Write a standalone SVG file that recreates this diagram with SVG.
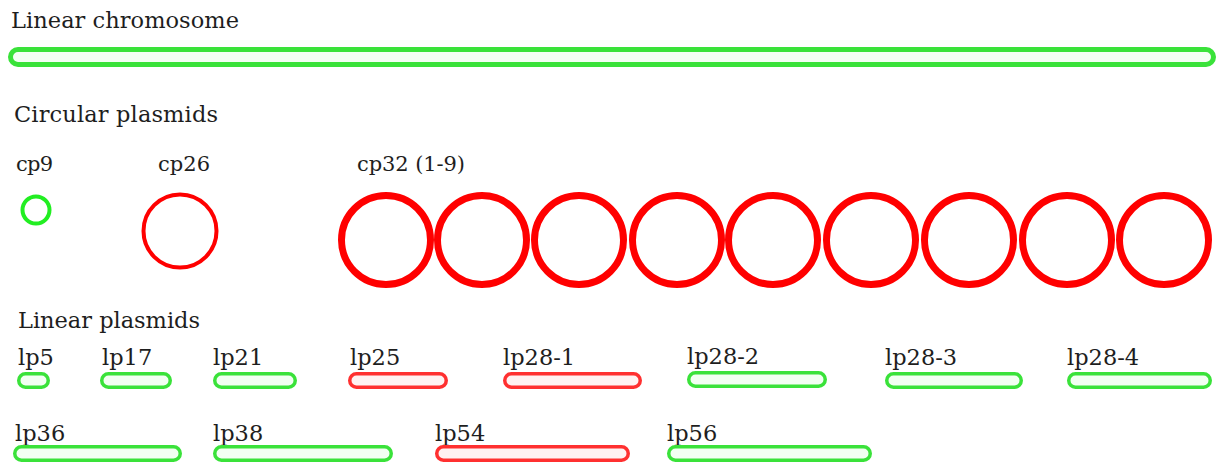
<svg xmlns="http://www.w3.org/2000/svg" width="1217" height="463" viewBox="0 0 1217 463">
<style>
text{font-family:"DejaVu Serif","Liberation Serif",serif;fill:#1e1e1e;}
.h{font-size:22.5px;}
.c{font-size:21px;}
.l{font-size:22.5px;}
.g{fill:#f2fff2;stroke:#3ae23a;stroke-width:3.5;}
.r{fill:#fff2f2;stroke:#ff3030;stroke-width:3.5;}
.cg{fill:none;stroke:#22ee22;stroke-width:4;}
.cr{fill:none;stroke:#ff0000;stroke-width:4;}
.cr7{fill:none;stroke:#ff0000;stroke-width:7;}
</style>
<rect width="1217" height="463" fill="#ffffff"/>
<g id="chromosome">
<text class="h" x="11" y="28" textLength="228">Linear chromosome</text>
<rect x="10.5" y="49.5" width="1203" height="15" rx="7.5" fill="#f4fff4" stroke="#3ae23a" stroke-width="5"/>
</g>
<text class="h" x="14" y="122" textLength="204">Circular plasmids</text>
<g id="cp9"><text class="c" x="16" y="171" textLength="37">cp9</text><circle class="cg" cx="36" cy="210" r="13.5"/></g>
<g id="cp26"><text class="c" x="158" y="171" textLength="52">cp26</text><circle class="cr" cx="180" cy="231" r="36.5"/></g>
<g id="cp32">
<text class="c" x="357" y="171" textLength="108">cp32 (1-9)</text>
<circle class="cr7" cx="386" cy="240" r="44.5"/>
<circle class="cr7" cx="482" cy="240" r="44.5"/>
<circle class="cr7" cx="579" cy="240" r="44.5"/>
<circle class="cr7" cx="677" cy="240" r="44.5"/>
<circle class="cr7" cx="773" cy="240" r="44.5"/>
<circle class="cr7" cx="871" cy="240" r="44.5"/>
<circle class="cr7" cx="969" cy="240" r="44.5"/>
<circle class="cr7" cx="1067" cy="240" r="44.5"/>
<circle class="cr7" cx="1164" cy="240" r="44.5"/>
</g>
<text class="h" x="18" y="328" textLength="182">Linear plasmids</text>
<g id="lp5"><text class="l" x="18" y="365">lp5</text><rect class="g" x="18.75" y="373.75" width="29.5" height="13.5" rx="6.75"/></g>
<g id="lp17"><text class="l" x="102" y="365">lp17</text><rect class="g" x="101.75" y="373.75" width="68.5" height="13.5" rx="6.75"/></g>
<g id="lp21"><text class="l" x="213" y="365">lp21</text><rect class="g" x="214.75" y="373.75" width="80.5" height="13.5" rx="6.75"/></g>
<g id="lp25"><text class="l" x="350" y="365">lp25</text><rect class="r" x="349.75" y="373.75" width="96.5" height="13.5" rx="6.75"/></g>
<g id="lp28-1"><text class="l" x="503" y="365">lp28-1</text><rect class="r" x="504.75" y="373.75" width="135.5" height="13.5" rx="6.75"/></g>
<g id="lp28-2"><text class="l" x="687" y="364">lp28-2</text><rect class="g" x="688.75" y="372.75" width="136.5" height="13.5" rx="6.75"/></g>
<g id="lp28-3"><text class="l" x="885" y="365">lp28-3</text><rect class="g" x="886.75" y="373.75" width="134.5" height="13.5" rx="6.75"/></g>
<g id="lp28-4"><text class="l" x="1067" y="365">lp28-4</text><rect class="g" x="1068.75" y="373.75" width="141.5" height="13.5" rx="6.75"/></g>
<g id="lp36"><text class="l" x="15" y="441">lp36</text><rect class="g" x="14.75" y="446.75" width="165.5" height="13.5" rx="6.75"/></g>
<g id="lp38"><text class="l" x="213" y="441">lp38</text><rect class="g" x="214.75" y="446.75" width="176.5" height="13.5" rx="6.75"/></g>
<g id="lp54"><text class="l" x="435" y="441">lp54</text><rect class="r" x="436.75" y="446.75" width="191.5" height="13.5" rx="6.75"/></g>
<g id="lp56"><text class="l" x="667" y="441">lp56</text><rect class="g" x="668.75" y="446.75" width="201.5" height="13.5" rx="6.75"/></g>
<g id="connectors"></g>
</svg>
